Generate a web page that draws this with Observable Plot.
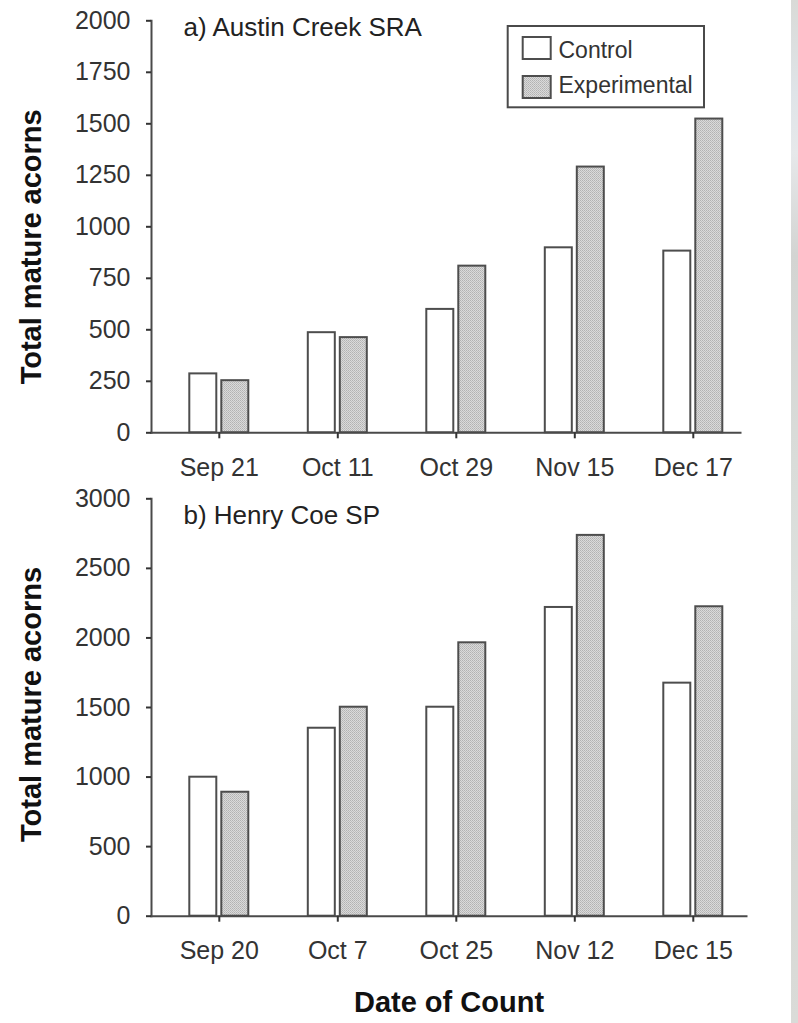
<!DOCTYPE html>
<html>
<head>
<meta charset="utf-8">
<script src="https://cdn.jsdelivr.net/npm/d3@7"></script>
<script src="https://cdn.jsdelivr.net/npm/@observablehq/plot@0.6"></script>
<style>
  html, body { margin: 0; padding: 0; background: #ffffff; }
  #wrap { position: relative; width: 798px; height: 1023px; overflow: hidden; font-family: "Liberation Sans", Arial, sans-serif; }
  #top, #bottom, #legend { position: absolute; left: 0; }
  #top { top: 0; }
  #bottom { top: 490px; }
  #legend { top: 0; }
  #strip { position: absolute; left: 791px; top: 0; width: 7px; height: 1023px;
    background: linear-gradient(to bottom, #d9dad7 0%, #dfe4e8 9%, #e6e8ea 15%, #d3d4d2 25%, #d9dcd9 45%, #dde1de 60%, #d6d8d4 80%, #dadbd8 100%); }
</style>
</head>
<body>
<svg width="0" height="0" style="position:absolute">
  <defs>
    <pattern id="dots" width="2" height="2" patternUnits="userSpaceOnUse">
      <rect width="2" height="2" fill="#dadada"/>
      <rect width="1" height="1" fill="#b2b2b2"/>
      <rect x="1" y="1" width="1" height="1" fill="#bdbdbd"/>
    </pattern>
  </defs>
</svg>
<div id="wrap">
  <div id="top"></div>
  <div id="bottom"></div>
  <div id="legend"></div>
  <div id="strip"></div>
</div>
<script>
// ---- data ----
const topDates = ["Sep 21", "Oct 11", "Oct 29", "Nov 15", "Dec 17"];
const topControl = [286, 486, 599, 898, 882];
const topExperimental = [253, 462, 809, 1290, 1523];
const topTicks = [0, 250, 500, 750, 1000, 1250, 1500, 1750, 2000];

const bottomDates = ["Sep 20", "Oct 7", "Oct 25", "Nov 12", "Dec 15"];
const bottomControl = [999, 1351, 1502, 2219, 1675];
const bottomExperimental = [891, 1502, 1965, 2737, 2224];
const bottomTicks = [0, 500, 1000, 1500, 2000, 2500, 3000];

const seriesNames = ["Control", "Experimental"];
const topTitle = "a) Austin Creek SRA";
const bottomTitle = "b) Henry Coe SP";
const yTitle = "Total mature acorns";
const xTitle = "Date of Count";

const FONT = "Liberation Sans, Arial, sans-serif";
const AXIS = "#4a4a4a";

function panel(o) {
  const rows = o.dates.map((d, i) => ({date: d, control: o.control[i], experimental: o.experimental[i]}));
  const marks = [
    Plot.barY(rows, {x: "date", y: "control", fill: "white", stroke: "#4d4d4d", strokeWidth: 2,
      insetLeft: 29.75, insetRight: 61.75}),
    Plot.barY(rows, {x: "date", y: "experimental", fill: "url(#dots)", stroke: "#4d4d4d", strokeWidth: 2,
      insetLeft: 61.75, insetRight: 29.75}),
    Plot.frame({anchor: "left", stroke: AXIS, strokeWidth: 2}),
    Plot.frame({anchor: "bottom", stroke: AXIS, strokeWidth: 2}),
    Plot.axisY({ticks: o.ticks, tickFormat: d => String(d), tickSize: 5, tickPadding: 16,
      fontSize: 25, label: null, color: "#333", strokeWidth: 2}),
    Plot.axisX({tickSize: 6, tickPadding: o.tickPadX, fontSize: 25, label: null, color: "#333", strokeWidth: 2}),
    Plot.text([o.title], {frameAnchor: "top-left", dx: 32, dy: o.titleDy, lineAnchor: "bottom",
      textAnchor: "start", fontSize: 26, fill: "#222"}),
    Plot.text([yTitle], {frameAnchor: "left", rotate: -90, dx: -120, dy: o.yTitleDy,
      textAnchor: "middle", lineAnchor: "middle", fontSize: 29, fontWeight: "bold", fill: "#111"})
  ];
  if (o.xTitle) {
    marks.push(Plot.text([o.xTitle], {frameAnchor: "bottom", dy: o.xTitleDy, lineAnchor: "bottom",
      textAnchor: "middle", fontSize: 29, fontWeight: "bold", fill: "#111"}));
  }
  return Plot.plot({
    width: 798,
    height: o.height,
    marginLeft: 151,
    marginRight: o.marginRight,
    marginTop: o.marginTop,
    marginBottom: o.marginBottom,
    style: {fontFamily: FONT, background: "transparent", overflow: "visible", color: "#333"},
    x: {type: "band", domain: o.dates, range: [159.55, 752.05], padding: 0, round: false},
    y: {domain: [0, o.yMax]},
    marks
  });
}

document.getElementById("top").appendChild(panel({
  dates: topDates, control: topControl, experimental: topExperimental, ticks: topTicks, yMax: 2000,
  title: topTitle, height: 490, marginTop: 20.3, marginBottom: 57.7, marginRight: 58,
  tickPadX: 19, titleDy: 14.7, yTitleDy: 20
}));

document.getElementById("bottom").appendChild(panel({
  dates: bottomDates, control: bottomControl, experimental: bottomExperimental, ticks: bottomTicks, yMax: 3000,
  title: bottomTitle, height: 533, marginTop: 8.3, marginBottom: 107.3, marginRight: 52,
  tickPadX: 19, titleDy: 24.7, yTitleDy: -3, xTitle: xTitle, xTitleDy: 95.3
}));

// ---- legend ----
const lg = d3.select("#legend").append("svg")
  .attr("width", 798).attr("height", 120)
  .style("font-family", FONT);
lg.append("rect").attr("x", 507.7).attr("y", 26).attr("width", 196.3).attr("height", 81.3)
  .attr("fill", "white").attr("stroke", AXIS).attr("stroke-width", 2);
const fills = ["white", "url(#dots)"];
const swY = [37, 76];
const txY = [58.2, 93];
seriesNames.forEach((s, i) => {
  lg.append("rect").attr("x", 522.7).attr("y", swY[i]).attr("width", 28).attr("height", 22)
    .attr("fill", fills[i]).attr("stroke", "#4d4d4d").attr("stroke-width", 2);
  lg.append("text").attr("x", 558.5).attr("y", txY[i]).attr("font-size", 23).attr("fill", "#333").text(s);
});
</script>
</body>
</html>
